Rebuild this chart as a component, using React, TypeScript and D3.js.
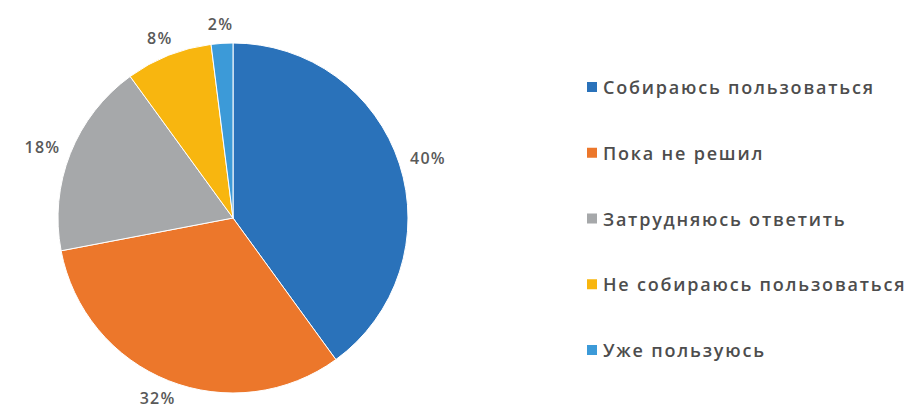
import React from "react";
import * as d3 from "d3";

const categories = [
  "Собираюсь пользоваться",
  "Пока не решил",
  "Затрудняюсь ответить",
  "Не собираюсь пользоваться",
  "Уже пользуюсь",
];
const values = [40, 32, 18, 8, 2];
const labels = ["40%", "32%", "18%", "8%", "2%"];
const colors = ["#2A72BA", "#EC772B", "#A6A8AA", "#F8B60F", "#3C9AD8"];

const W = 910;
const H = 410;
const cx = 233;
const cy = 218;
const R = 175;
const labelGap = 12;

export default function App() {
  const pie = d3.pie<number>().sort(null).value((d) => d)(values);
  const arc = d3.arc<d3.PieArcDatum<number>>().innerRadius(0).outerRadius(R);
  const legendY = d3
    .scalePoint<string>()
    .domain(categories)
    .range([87, 350]);

  return (
    <svg
      width={W}
      height={H}
      style={{ position: "absolute", left: 0, top: 0, background: "#fff" }}
    >
      <g transform={`translate(${cx},${cy})`}>
        {pie.map((p, i) => (
          <path
            key={i}
            d={arc(p) || ""}
            fill={colors[i]}
            stroke="#fff"
            strokeWidth={1}
          />
        ))}
        {pie.map((p, i) => {
          // "outside end" placement: label box touches a circle just outside the pie
          const a = (p.startAngle + p.endAngle) / 2;
          const s = Math.sin(a);
          const c = Math.cos(a);
          const w = labels[i].length * 12;
          const h = 14;
          const x = (R + labelGap) * s + (s * w) / 2;
          const y = -(R + labelGap) * c - (c * h) / 2;
          return (
            <text
              key={i}
              x={x}
              y={y}
              textAnchor="middle"
              dominantBaseline="central"
              fontFamily="'Open Sans', sans-serif"
              fontWeight={600}
              fontSize={16}
              letterSpacing={1.2}
              fill="#595959"
            >
              {labels[i]}
            </text>
          );
        })}
      </g>
      {categories.map((c, i) => {
        const y = legendY(c) as number;
        return (
          <g key={c}>
            <rect x={587} y={y - 5} width={10} height={10} fill={colors[i]} />
            <text
              x={603}
              y={y}
              dominantBaseline="central"
              fontFamily="'Open Sans', sans-serif"
              fontWeight={600}
              fontSize={18}
              letterSpacing={1.8}
              fill="#4D4D4D"
            >
              {c}
            </text>
          </g>
        );
      })}
    </svg>
  );
}
